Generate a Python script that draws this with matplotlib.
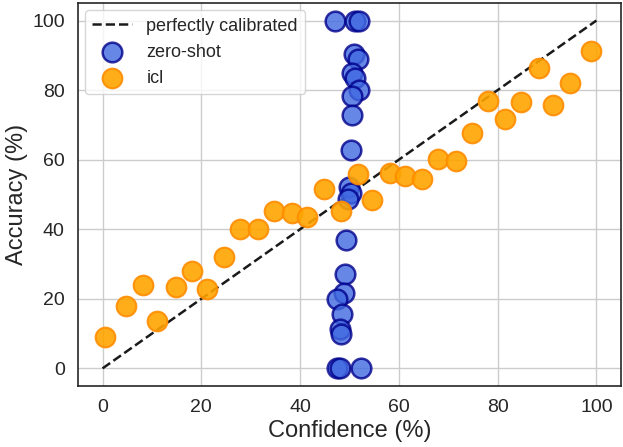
import numpy as np
import matplotlib
matplotlib.use("Agg")
import matplotlib.pyplot as plt
import seaborn as sns

# zero-shot: confidence / accuracy (%)
zs_conf = [47.0, 51.2, 52.0, 51.0, 51.7, 50.6, 51.2, 52.0, 50.5, 50.5, 50.3,
           49.9, 50.3, 49.6, 49.3, 49.0, 48.9, 47.5, 48.5, 48.0, 48.3,
           47.4, 48.0, 52.3]
zs_acc = [100, 100, 100, 90.3, 88.9, 84.9, 83.5, 80.1, 78.2, 72.7, 62.8,
          52.0, 50.5, 48.6, 36.9, 27.0, 21.6, 20.0, 15.5, 11.4, 9.9,
          0, 0, 0]

# icl
icl_conf = [0.4, 4.7, 8.2, 11.1, 14.8, 18.1, 21.2, 24.6, 27.9, 31.4,
            34.8, 38.3, 41.4, 44.9, 48.2, 51.7, 54.6, 58.1, 61.3, 64.6,
            68.0, 71.5, 74.8, 78.1, 81.4, 84.7, 88.3, 91.3, 94.7, 99.0]
icl_acc = [9.0, 17.9, 24.0, 13.6, 23.5, 28.1, 22.8, 32.1, 40.2, 40.0,
           45.3, 44.6, 43.6, 51.6, 45.1, 56.0, 48.3, 56.3, 55.3, 54.4,
           60.1, 59.6, 67.7, 77.0, 71.8, 76.5, 86.3, 75.8, 82.0, 91.1]

sns.set_theme(style="whitegrid")
plt.rcParams['font.family'] = ['Liberation Sans', 'DejaVu Sans']

fig, ax = plt.subplots(figsize=(6.23, 4.47), dpi=100)

# diagonal
ax.plot([0, 100], [0, 100], 'k--', lw=1.8, label="perfectly calibrated")
ax.scatter(zs_conf, zs_acc, s=200, color="royalblue", alpha=0.8,
           edgecolors="darkblue", linewidths=1.8, label="zero-shot", zorder=3)
ax.scatter(icl_conf, icl_acc, s=200, color="orange", alpha=0.9,
           edgecolors="darkorange", linewidths=1.5, label="icl", zorder=3)

ax.set_xlabel("Confidence (%)", fontsize=17, labelpad=3)
ax.set_ylabel("Accuracy (%)", fontsize=17, labelpad=3)
ax.tick_params(labelsize=14)
ax.set_xticks([0, 20, 40, 60, 80, 100])
ax.set_yticks([0, 20, 40, 60, 80, 100])
for sp in ax.spines.values():
    sp.set_color("0.15")
    sp.set_linewidth(1.2)

ax.legend(loc="upper left", fontsize=13, frameon=True, handlelength=2.2,
          handletextpad=0.8, borderaxespad=0.4)

fig.subplots_adjust(left=0.125, right=0.997, top=0.993, bottom=0.137)
plt.savefig("out.png", dpi=100)
